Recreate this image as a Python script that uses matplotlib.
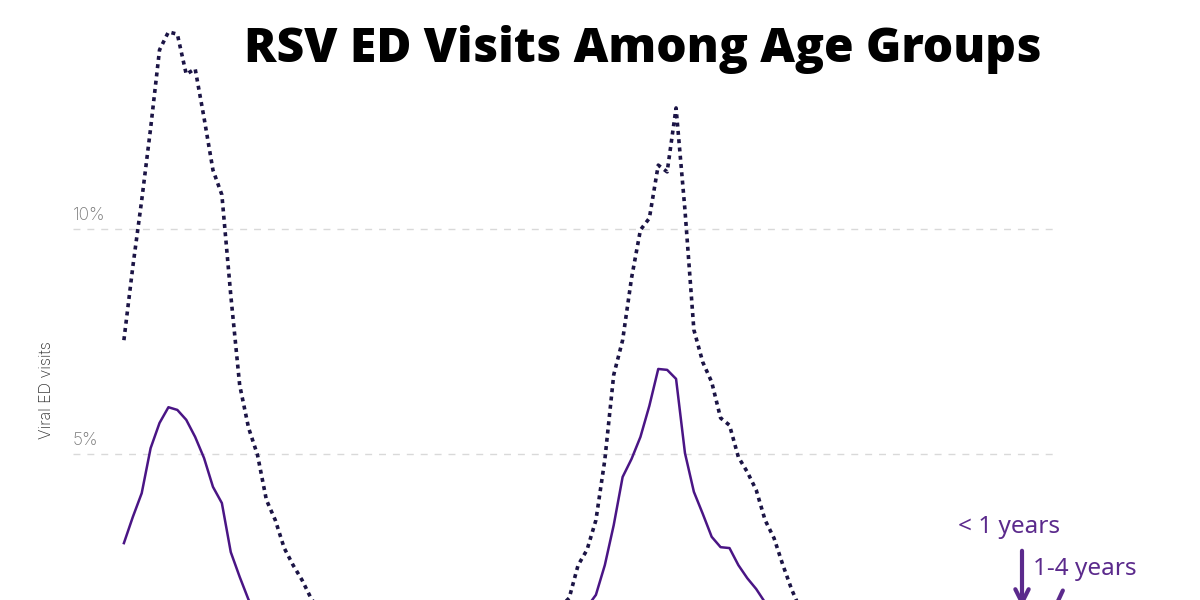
import matplotlib
matplotlib.use("Agg")
import matplotlib.pyplot as plt
import matplotlib.transforms as mtransforms

# weekly share of viral ED visits that are RSV (%)
under_1 = [7.53, 9.16, 10.64, 12.24, 13.98, 14.38, 14.33, 13.44, 13.56, 12.47,
           11.31, 10.76, 8.53, 6.53, 5.58, 4.98, 3.98, 3.53, 2.91, 2.53,
           2.2, 1.8, 1.5, 1.3, 1.1, 0.95, 0.85, 0.75, 0.7, 0.65,
           0.6, 0.55, 0.55, 0.5, 0.5, 0.5, 0.45, 0.5, 0.5, 0.55,
           0.6, 0.65, 0.7, 0.8, 0.9, 1.0, 1.15, 1.3, 1.45, 1.6,
           1.8, 2.53, 2.87, 3.53, 4.87, 6.76, 7.53, 8.91, 9.98, 10.24,
           11.42, 11.27, 12.69, 10.42, 7.76, 7.04, 6.6, 5.8, 5.64, 4.93,
           4.6, 4.2, 3.53, 3.13, 2.53, 1.98, 1.53, 1.3, 1.15, 1.0,
           0.9, 0.8, 0.7, 0.65, 0.6, 0.55, 0.5, 0.5, 0.5, 0.45,
           0.45, 0.5, 0.5, 0.55, 0.6, 0.65, 0.75, 0.85, 0.95, 1.1,
           1.25, 1.4, 1.55]
age_1_4 = [3.02, 3.6, 4.13, 5.13, 5.69, 6.04, 5.98, 5.76, 5.38, 4.91,
           4.27, 3.91, 2.82, 2.27, 1.76, 1.4, 1.15, 0.95, 0.8, 0.7,
           0.6, 0.55, 0.5, 0.45, 0.4, 0.4, 0.35, 0.35, 0.35, 0.3,
           0.3, 0.3, 0.3, 0.3, 0.3, 0.35, 0.35, 0.35, 0.4, 0.4,
           0.45, 0.5, 0.55, 0.6, 0.65, 0.75, 0.85, 0.95, 1.05, 1.15,
           1.3, 1.45, 1.6, 1.87, 2.53, 3.42, 4.49, 4.89, 5.38, 6.07,
           6.89, 6.87, 6.67, 5.02, 4.16, 3.67, 3.16, 2.93, 2.91, 2.53,
           2.24, 2.0, 1.7, 1.45, 1.25, 1.1, 0.95, 0.85, 0.75, 0.65,
           0.6, 0.55, 0.5, 0.45, 0.4, 0.4, 0.35, 0.35, 0.35, 0.3,
           0.3, 0.35, 0.35, 0.4, 0.45, 0.5, 0.6, 0.7, 0.8, 0.9,
           1.0, 1.1, 1.2]
weeks = list(range(len(under_1)))

y_ticks = [5, 10]
y_tick_labels = ["5%", "10%"]

NAVY = "#1b1445"
PURPLE = "#4a1585"
NOTE = "#5b2a8c"

fig = plt.figure(figsize=(12, 6), dpi=100)
# the original is a crop: the plot runs on below the bottom edge
ax = fig.add_axes([0.0608, -0.1317, 0.818, 1.125])
ax.set_xlim(-5.72, 104.5)
ax.set_ylim(0, 15)

for v in y_ticks:
    ax.axhline(v, color="#d9d9d9", lw=1, ls=(0, (5, 5)), zorder=0)

ax.plot(weeks, under_1, color=NAVY, lw=2.6, ls=(0, (1.1, 1.2)),
        dash_capstyle="butt")
ax.plot(weeks, age_1_4, color=PURPLE, lw=1.8)

trans = mtransforms.blended_transform_factory(ax.transAxes, ax.transData)
for v, lab in zip(y_ticks, y_tick_labels):
    ax.text(0, v + 0.12, lab, transform=trans, ha="left", va="bottom",
            fontsize=12.5, color="#777777", family="Inter", fontweight="light")

ax.set_xticks([])
ax.set_yticks([])
for s in ax.spines.values():
    s.set_visible(False)

fig.text(46 / 1200, 1 - 390 / 600, "Viral ED visits", rotation=90,
         ha="center", va="center", fontsize=11.5, color="#333333",
         family="Inter", fontweight="light")

fig.text(0.536, 1 - 49 / 600, "RSV ED Visits Among Age Groups", ha="center",
         va="center", fontsize=34.5, fontweight="heavy", family="Open Sans",
         color="black")

# labels with arrows pointing down at the line ends
ax.annotate("", xy=(1022, -10), xytext=(1022, 52), xycoords="figure pixels",
            textcoords="figure pixels",
            arrowprops=dict(arrowstyle="->", color=NOTE, lw=3,
                            mutation_scale=24))
ax.annotate("", xy=(1052, -14), xytext=(1064, 12), xycoords="figure pixels",
            textcoords="figure pixels",
            arrowprops=dict(arrowstyle="-", color=NOTE, lw=3))
fig.text(958 / 1200, 73 / 600, "< 1 years", ha="left", va="center",
         fontsize=17.5, color=NOTE, family="Noto Sans", fontweight="light")
fig.text(1033 / 1200, 31 / 600, "1-4 years", ha="left", va="center",
         fontsize=17.5, color=NOTE, family="Noto Sans", fontweight="light")

fig.savefig("out.png", dpi=100)
